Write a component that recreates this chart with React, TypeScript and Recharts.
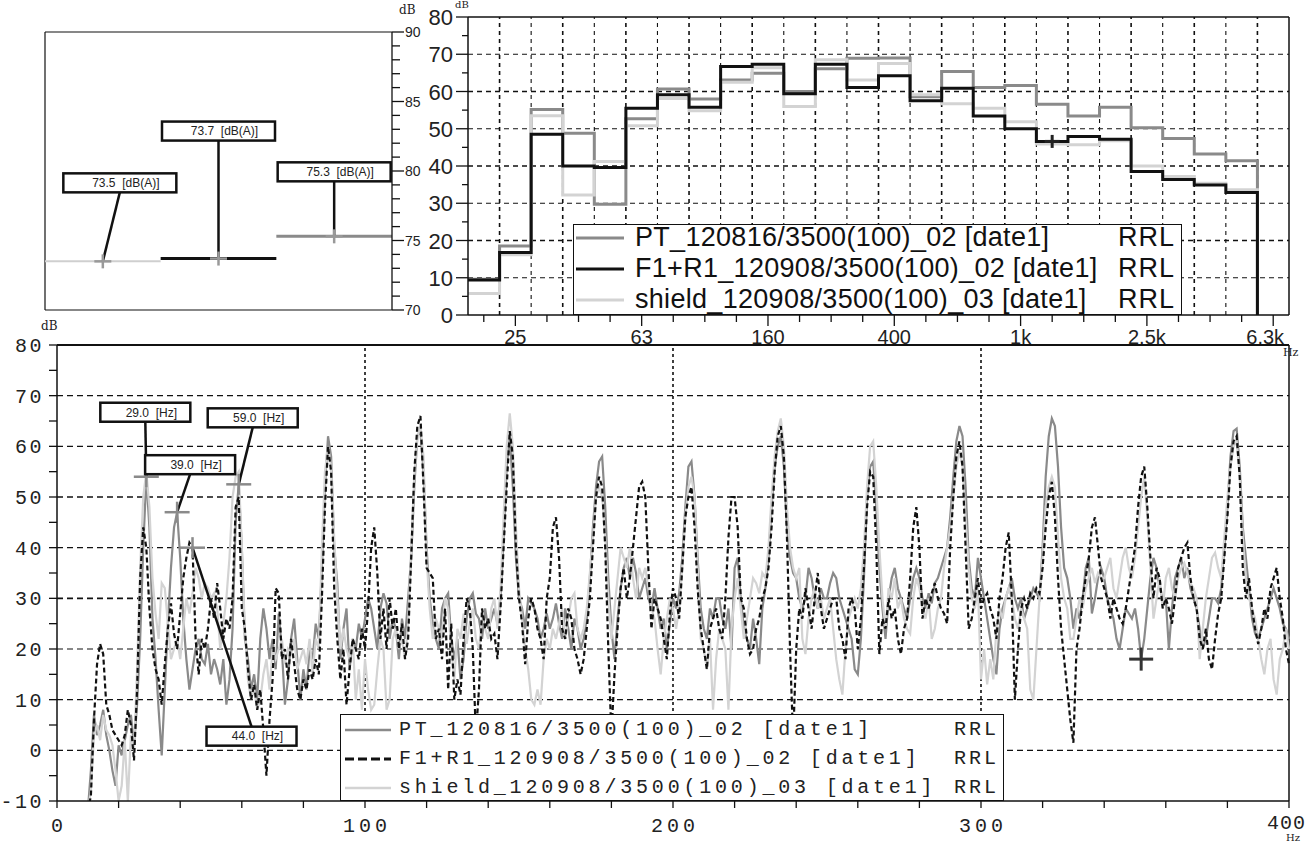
import { LineChart, Line, XAxis, YAxis, ReferenceLine, ReferenceDot, Legend } from 'recharts'

// overall levels, dB(A)
const overallShield = 73.5
const overallF1 = 73.7
const overallPT = 75.3

// 1/3 octave bands
const bandNames = ['20', '25', '31.5', '40', '50', '63', '80', '100', '125', '160', '200', '250', '315', '400', '500', '630', '800', '1k', '1.25k', '1.6k', '2k', '2.5k', '3.15k', '4k', '5k', '6.3k']
const bandLabels = ['25', '63', '160', '400', '1k', '2.5k', '6.3k']
const ptBand = [9.6, 18.5, 55.2, 48.8, 29.7, 52.7, 60.7, 58.0, 63.1, 64.9, 60.0, 66.1, 68.9, 69.0, 58.6, 65.4, 61.1, 61.6, 56.6, 53.4, 55.8, 50.3, 47.4, 43.2, 41.4, 0]
const f1Band = [9.4, 16.8, 48.5, 40.0, 39.6, 55.5, 59.1, 55.8, 66.7, 67.3, 59.4, 67.3, 61.1, 64.2, 57.5, 60.9, 53.4, 50.0, 46.6, 47.9, 47.2, 38.5, 36.4, 34.9, 32.9, 0]
const shBand = [5.8, 16.2, 53.5, 32.2, 41.2, 50.8, 58.1, 54.8, 62.5, 66.4, 56.0, 68.5, 63.1, 67.5, 59.1, 56.7, 55.5, 51.9, 45.9, 45.7, 46.8, 40.0, 37.2, 35.4, 33.6, 0]

// narrow band spectrum, 1 Hz lines from 10 Hz to 400 Hz
const specStartHz = 10
const ptSpec = [
  -12, -4, 7, 3, 5, 8, 3, 0, -4, -7, // 10
  1, -1, 2, 5, 7, 1, 9, 22, 40, 54, // 20
  44, 26, 18, 8, -1, 12, 25, 36, 44, 47, // 30
  38, 26, 18, 12, 16, 20, 22, 18, 17, 21, // 40
  15, 18, 16, 13, 18, 9, 14, 24, 45, 52.5, // 50
  40, 22, 18, 12, 15, 10, 22, 28, 24, 18, // 60
  22, 16, 27, 20, 9, 14, 22, 26, 18, 10, // 70
  16, 12, 20, 18, 25, 22, 36, 52, 62, 58, // 80
  40, 33, 18, 24, 28, 16, 22, 20, 25, 22, // 90
  26, 30, 28, 24, 20, 28, 31, 29, 22, 26, // 100
  24, 18, 26, 22, 30, 38, 52, 62, 63, 55, // 110
  40, 30, 25, 22, 20, 28, 30, 31, 22, 18, // 120
  22, 14, 18, 26, 30, 31, 27, 26, 22, 28, // 130
  24, 26, 28, 25, 30, 42, 56, 62, 52, 38, // 140
  30, 28, 24, 30, 29, 28, 26, 22, 24, 27, // 150
  24, 26, 29, 25, 22, 28, 24, 20, 26, 24, // 160
  20, 22, 26, 34, 44, 52, 57, 58, 48, 34, // 170
  24, 18, 26, 32, 36, 38, 34, 38, 35, 30, // 180
  32, 34, 30, 28, 32, 28, 24, 26, 20, 25, // 190
  30, 28, 31, 38, 48, 56, 57, 50, 38, 28, // 200
  24, 22, 28, 26, 30, 30, 26, 24, 28, 20, // 210
  36, 38, 30, 24, 22, 20, 26, 22, 17, 28, // 220
  32, 38, 48, 56, 60, 62, 56, 44, 38, 35, // 230
  34, 30, 28, 30, 36, 34, 30, 28, 32, 30, // 240
  30, 33, 35, 34, 30, 28, 26, 24, 22, 16, // 250
  15, 22, 34, 50, 56, 57, 48, 36, 28, 22, // 260
  30, 34, 36, 32, 30, 28, 26, 30, 34, 36, // 270
  34, 30, 28, 31, 29, 33, 34, 36, 38, 40, // 280
  46, 54, 61, 64, 62, 52, 38, 32, 30, 38, // 290
  34, 30, 26, 22, 18, 15, 24, 28, 30, 32, // 300
  34, 30, 28, 30, 26, 28, 30, 32, 31, 30, // 310
  40, 54, 62, 65.5, 64, 56, 44, 36, 34, 30, // 320
  24, 28, 26, 30, 36, 38, 27, 30, 34, 36, // 330
  34, 30, 28, 26, 22, 20, 24, 28, 27, 26, // 340
  28, 24, 18, 22, 28, 34, 38, 36, 32, 30, // 350
  30, 20, 28, 34, 36, 38, 34, 36, 32, 30, // 360
  28, 24, 20, 22, 26, 30, 30, 29, 32, 40, // 370
  48, 58, 63, 63.5, 56, 44, 38, 32, 26, 23, // 380
  22, 24, 26, 28, 30, 32, 30, 28, 25, 24, 22, // 390-400
]
const f1Spec = [
  -12, -9, 6, 17, 21, 19, 9, 7, 4, 3, // 10
  2, 1, 3, 8, 5, -2, 12, 34, 44, 40, // 20
  28, 20, 16, 14, 9, 17, 24, 29, 23, 20, // 30
  27, 34, 38, 41, 40, 22, 15, 22, 20, 24, // 40
  30, 26, 33, 28, 22, 26, 24, 30, 48, 50, // 50
  28, 24, 16, 10, 13, 8, 12, 4, -5, 6, // 60
  14, 32, 31, 18, 20, 14, 22, 17, 12, 10, // 70
  14, 12, 16, 14, 18, 15, 30, 48, 60, 55, // 80
  32, 22, 14, 20, 9, 16, 22, 20, 18, 24, // 90
  20, 28, 40, 44, 35, 22, 28, 20, 30, 24, // 100
  28, 20, 25, 18, 22, 38, 55, 64, 66, 52, // 110
  36, 35, 34, 22, 24, 18, 28, 12, 25, 10, // 120
  14, 11, 22, 30, 28, 20, 3, 12, 28, 24, // 130
  26, 22, 23, 18, 28, 40, 52, 63, 58, 40, // 140
  30, 25, 17, 26, 30, 28, 24, 22, 18, 30, // 150
  34, 44, 46, 38, 24, 22, 28, 26, 20, 18, // 160
  15, 18, 24, 30, 40, 50, 54, 52, 40, 20, // 170
  3, 15, 24, 32, 36, 30, 34, 40, 46, 52, // 180
  53, 50, 36, 24, 30, 28, 26, 22, 18, 27, // 190
  32, 30, 26, 36, 46, 50, 52, 44, 32, 24, // 200
  20, 16, 24, 26, 28, 24, 22, 30, 42, 50, // 210
  50, 44, 30, 28, 22, 19, 20, 24, 26, 30, // 220
  32, 36, 44, 55, 62, 64, 58, 42, 20, 2, // 230
  20, 28, 26, 32, 28, 24, 30, 35, 28, 24, // 240
  26, 28, 30, 30, 24, 22, 18, 28, 30, 28, // 250
  20, 26, 36, 48, 55, 54, 40, 19, 26, 24, // 260
  30, 26, 28, 22, 19, 24, 26, 34, 44, 48, // 270
  40, 26, 30, 28, 31, 33, 30, 28, 27, 25, // 280
  40, 50, 58, 61, 56, 40, 24, 26, 30, 34, // 290
  28, 30, 31, 28, 26, 22, 30, 34, 40, 43, // 300
  30, 10, 20, 28, 30, 28, 31, 30, 32, 31, // 310
  36, 44, 50, 53, 46, 34, 24, 18, 12, 6, // 320
  1.5, 20, 24, 30, 34, 38, 44, 46, 40, 34, // 330
  32, 30, 26, 30, 28, 26, 25, 28, 32, 36, // 340
  40, 48, 54, 56, 48, 38, 30, 36, 34, 28, // 350
  30, 28, 25, 30, 36, 38, 40, 41, 34, 30, // 360
  28, 22, 20, 24, 18, 16, 22, 27, 30, 38, // 370
  46, 56, 61, 62, 54, 36, 30, 34, 28, 24, // 380
  21, 24, 28, 26, 32, 34, 36, 30, 26, 20, 17, // 390-400
]
const shSpec = [
  -12, -8, 3, 5, 2, 7, 4, 3, 1, -4, // 10
  -10, -7, 2, -10, 3, 0, 16, 36, 50, 55, // 20
  48, 34, 27, 22, 33, 32, 25, 18, 20, 22, // 30
  18, 24, 30, 27, 31, 36, 34, 30, 33, 32, // 40
  30, 31, 28, 20, 25, 30, 38, 50, 54, 55, // 50
  40, 24, 14, 10, 12, 8, 10, 15, 18, 12, // 60
  20, 18, 20, 22, 17, 20, 19, 22, 16, 18, // 70
  20, 17, 22, 15, 22, 20, 40, 55, 60, 56, // 80
  42, 30, 20, 24, 20, 18, 22, 10, 16, 8, // 90
  18, 12, 8, 9, 16, 22, 20, 8, 10, 22, // 100
  24, 20, 22, 18, 25, 40, 54, 62, 64, 58, // 110
  38, 28, 22, 26, 24, 22, 30, 28, 20, 14, // 120
  24, 22, 27, 21, 25, 28, 22, 20, 26, 24, // 130
  22, 28, 30, 24, 32, 46, 60, 66.5, 60, 44, // 140
  32, 26, 20, 16, 10, 9, 12, 9, 18, 22, // 150
  20, 24, 22, 25, 28, 22, 26, 30, 31, 24, // 160
  22, 24, 28, 35, 42, 50, 52, 50, 42, 30, // 170
  22, 28, 34, 40, 38, 36, 40, 34, 30, 36, // 180
  34, 36, 32, 28, 26, 20, 15, 22, 26, 30, // 190
  28, 24, 28, 36, 46, 52, 54, 50, 36, 22, // 200
  20, 16, 22, 8, 18, 24, 22, 20, 8, 24, // 210
  30, 34, 28, 22, 26, 30, 34, 33, 31, 35, // 220
  34, 40, 50, 58, 63, 65.5, 60, 48, 40, 36, // 230
  34, 36, 22, 19, 26, 30, 32, 28, 30, 26, // 240
  28, 30, 24, 18, 14, 11, 20, 26, 28, 30, // 250
  28, 32, 40, 52, 60, 61, 52, 40, 30, 24, // 260
  32, 30, 34, 28, 30, 26, 24, 23, 30, 34, // 270
  32, 28, 26, 30, 22, 24, 28, 30, 36, 40, // 280
  44, 50, 56, 59, 56, 46, 36, 30, 28, 32, // 290
  14, 20, 13, 18, 14, 24, 28, 26, 30, 32, // 300
  30, 26, 24, 28, 26, 24, 12, 10, 20, 30, // 310
  38, 48, 52, 54, 52, 42, 34, 30, 28, 22, // 320
  22, 26, 30, 28, 32, 34, 36, 33, 35, 34, // 330
  34, 36, 38, 32, 30, 34, 38, 40, 36, 34, // 340
  38, 44, 50, 54, 46, 36, 26, 30, 34, 28, // 350
  34, 36, 32, 30, 34, 36, 37, 35, 33, 32, // 360
  30, 18, 24, 30, 34, 38, 39, 36, 34, 42, // 370
  50, 56, 60, 61, 54, 42, 34, 30, 28, 26, // 380
  22, 18, 15, 20, 22, 14, 11, 18, 20, 24, 20, // 390-400
]

const series = [
  { key: 'pt', name: 'PT_120816/3500(100)_02 [date1]', color: '#8a8a8a', dash: undefined as string | undefined },
  { key: 'f1', name: 'F1+R1_120908/3500(100)_02 [date1]', color: '#111111', dash: '7 4' },
  { key: 'sh', name: 'shield_120908/3500(100)_03 [date1]', color: '#d3d3d3', dash: undefined as string | undefined },
]

const overallRows = [0, 1, 2, 3].map((x) => ({
  x,
  sh: x <= 1 ? overallShield : null,
  f1: x >= 1 && x <= 2 ? overallF1 : null,
  pt: x >= 2 ? overallPT : null,
}))

const bandRows = bandNames.map((name, i) => ({ x: i, name, pt: ptBand[i], f1: f1Band[i], sh: shBand[i] }))
const bandTicks = bandNames.map((_, i) => i + 0.5)

const specRows = ptSpec.map((v, i) => ({ hz: specStartHz + i, pt: v, f1: f1Spec[i], sh: shSpec[i] }))
const specAt = (hz: number, key: 'pt' | 'f1' | 'sh') => specRows[hz - specStartHz][key]

const range = (a: number, b: number, s: number) => {
  const out: number[] = []
  for (let v = a; v <= b + 1e-9; v += s) out.push(v)
  return out
}

const cross = (cx: number, cy: number, w: number, h: number, color: string, sw: number) => (
  <g>
    <line x1={cx - w / 2} x2={cx + w / 2} y1={cy} y2={cy} stroke={color} strokeWidth={sw} />
    <line x1={cx} x2={cx} y1={cy - h / 2} y2={cy + h / 2} stroke={color} strokeWidth={sw} />
  </g>
)

type CalloutOpts = { text: string; dx: number; dy: number; w: number; h: number; below?: boolean; cw: number; ch: number; cc: string; fs: number }

function callout(o: CalloutOpts) {
  return (p: any) => {
    const { cx, cy } = p
    if (cx == null || cy == null) return <g />
    const bx = cx + o.dx
    const by = cy + o.dy
    const top = o.below ? by : by - o.h
    return (
      <g>
        <line x1={cx} y1={cy} x2={bx} y2={by} stroke="#111" strokeWidth={2.5} />
        {cross(cx, cy, o.cw, o.ch, o.cc, 2.5)}
        <rect x={bx - o.w / 2} y={top} width={o.w} height={o.h} fill="#fff" stroke="#111" strokeWidth={2.5} />
        <text x={bx + 6} y={top + o.h / 2 + o.fs * 0.36} textAnchor="middle" fontFamily="Liberation Sans" fontSize={o.fs} fill="#222" xmlSpace="preserve" style={{ whiteSpace: 'pre' }}>
          {o.text}
        </text>
      </g>
    )
  }
}

function plainCross(w: number, h: number, color: string, sw: number) {
  return (p: any) => (p.cx == null ? <g /> : cross(p.cx, p.cy, w, h, color, sw))
}

// ---------- top left: overall levels ----------
const OverallTick = ({ x, y, payload }: any) => {
  const v = payload.value
  const major = v % 5 === 0
  return (
    <g>
      <line x1={x} x2={x + (major ? 12 : 8)} y1={y} y2={y} stroke="#111" strokeWidth={1.3} />
      {major && (
        <text x={x + 13} y={y + 5} fontFamily="Liberation Sans" fontSize={14} fill="#222">
          {v}
        </text>
      )}
    </g>
  )
}

function OverallChart() {
  const callouts = [
    { x: 0.5, y: overallShield, text: `${overallShield.toFixed(1)}  [dB(A)]`, dx: 17, dy: -69 },
    { x: 1.5, y: overallF1, text: `${overallF1.toFixed(1)}  [dB(A)]`, dx: 0, dy: -118 },
    { x: 2.5, y: overallPT, text: `${overallPT.toFixed(1)}  [dB(A)]`, dx: 0, dy: -55 },
  ]
  return (
    <LineChart width={460} height={330} data={overallRows} margin={{ top: 32, right: 28, bottom: 20, left: 45 }}>
      <XAxis type="number" dataKey="x" domain={[0, 3]} hide />
      <YAxis
        orientation="right"
        domain={[70, 90]}
        ticks={range(70, 90, 1)}
        interval={0}
        width={40}
        tickLine={false}
        tickSize={0}
        tickMargin={0}
        tick={<OverallTick />}
        axisLine={{ stroke: '#111', strokeWidth: 1.3 }}
      />
      <ReferenceLine x={0} stroke="#111" strokeWidth={1.2} />
      <ReferenceLine y={90} stroke="#111" strokeWidth={1.2} />
      <ReferenceLine y={70} stroke="#111" strokeWidth={1.2} />
      <Line dataKey="sh" stroke="#cfcfcf" strokeWidth={2} dot={false} isAnimationActive={false} connectNulls={false} />
      <Line dataKey="f1" stroke="#111" strokeWidth={3} dot={false} isAnimationActive={false} connectNulls={false} />
      <Line dataKey="pt" stroke="#8a8a8a" strokeWidth={3} dot={false} isAnimationActive={false} connectNulls={false} />
      {callouts.map((c) => (
        <ReferenceDot
          key={c.text}
          x={c.x}
          y={c.y}
          r={0}
          shape={callout({ text: c.text, dx: c.dx, dy: c.dy, w: 113, h: 19, cw: 17, ch: 14, cc: '#999', fs: 12 })}
        />
      ))}
    </LineChart>
  )
}

// ---------- top right: 1/3 octave bands ----------
const BandTick = ({ x, y, payload }: any) => {
  const i = Math.round(payload.value - 0.5)
  const name = bandNames[i]
  const labeled = bandLabels.includes(name)
  const last = i === bandNames.length - 1
  return (
    <g>
      <line x1={x} x2={x} y1={y} y2={y + (labeled ? 11 : 7)} stroke="#111" strokeWidth={1.3} />
      {labeled && (
        <text x={last ? x - 8 : x} y={y + 29} textAnchor="middle" fontFamily="Liberation Sans" fontSize={20} fill="#222">
          {name}
        </text>
      )}
    </g>
  )
}

const BandYTick = ({ x, y, payload }: any) => {
  const v = payload.value
  const major = v % 10 === 0
  return (
    <g>
      <line x1={x - (major ? 12 : 6)} x2={x} y1={y} y2={y} stroke="#111" strokeWidth={1.3} />
      {major && (
        <text x={x - 15} y={y + 8} textAnchor="end" fontFamily="Liberation Sans" fontSize={22} fill="#222">
          {v}
        </text>
      )}
    </g>
  )
}

const BandLegend = () => (
  <div
    style={{
      position: 'relative',
      width: 609,
      height: 91,
      boxSizing: 'border-box',
      border: '1.5px solid #111',
      background: '#fff',
      fontFamily: 'Liberation Sans',
      fontSize: 27,
      lineHeight: '31px',
      color: '#111',
    }}
  >
    {series.map((s, i) => (
      <div key={s.key} style={{ position: 'absolute', left: 0, right: 0, top: i * 31 - 3, height: 31, display: 'flex', alignItems: 'center', whiteSpace: 'pre' }}>
        <svg width={52} height={8} style={{ flex: 'none' }}>
          <line x1={2} x2={50} y1={4} y2={4} stroke={s.color} strokeWidth={3} />
        </svg>
        <span style={{ marginLeft: 9, letterSpacing: 0.3 }}>{s.name}</span>
        <span style={{ position: 'absolute', right: 6, letterSpacing: 1 }}>RRL</span>
      </div>
    ))}
  </div>
)

function BandChart() {
  return (
    <LineChart width={906} height={350} data={bandRows} margin={{ top: 17, right: 17, bottom: 5, left: 8 }}>
      <XAxis
        type="number"
        dataKey="x"
        domain={[0, 26]}
        ticks={bandTicks}
        interval={0}
        height={30}
        tickLine={false}
        tickSize={0}
        tickMargin={0}
        tick={<BandTick />}
        axisLine={{ stroke: '#111', strokeWidth: 1.5 }}
      />
      <YAxis
        domain={[0, 80]}
        ticks={range(0, 80, 5)}
        interval={0}
        width={60}
        tickLine={false}
        tickSize={0}
        tickMargin={0}
        tick={<BandYTick />}
        axisLine={{ stroke: '#111', strokeWidth: 1.5 }}
      />
      {range(10, 70, 10).map((v) => (
        <ReferenceLine key={`h${v}`} y={v} stroke="#111" strokeWidth={v % 20 === 0 ? 1.6 : 1} strokeDasharray="5 4" />
      ))}
      {range(1, 25, 1).map((v) => (
        <ReferenceLine key={`v${v}`} x={v} stroke="#111" strokeWidth={v % 2 === 0 ? 1.1 : 1.6} strokeDasharray="4 4" />
      ))}
      <ReferenceLine y={80} stroke="#111" strokeWidth={1.5} />
      <ReferenceLine x={26} stroke="#111" strokeWidth={1.5} />
      <Line type="stepAfter" dataKey="pt" stroke="#8a8a8a" strokeWidth={3} dot={false} isAnimationActive={false} />
      <Line type="stepAfter" dataKey="sh" stroke="#d3d3d3" strokeWidth={3} dot={false} isAnimationActive={false} />
      <Line type="stepAfter" dataKey="f1" stroke="#111" strokeWidth={3} dot={false} isAnimationActive={false} />
      <ReferenceDot x={18.5} y={f1Band[18]} r={0} shape={plainCross(15, 13, '#222', 3)} />
      <Legend
        layout="vertical"
        align="center"
        verticalAlign="middle"
        content={() => <BandLegend />}
        wrapperStyle={{ left: 173, top: 224, width: 609, height: 91 }}
      />
    </LineChart>
  )
}

// ---------- bottom: narrow band spectrum ----------
const monoFont = 'Liberation Mono'

const SpecYTick = ({ x, y, payload }: any) => {
  const v = payload.value
  const major = v % 10 === 0
  return (
    <g>
      <line x1={x - 8} x2={x} y1={y} y2={y} stroke="#111" strokeWidth={1.3} />
      {major && (
        <text x={x - 13} y={y + 7} textAnchor="end" fontFamily={monoFont} fontSize={20} letterSpacing={2.5} fill="#222">
          {v}
        </text>
      )}
    </g>
  )
}

const SpecXTick = ({ x, y, payload }: any) => {
  const v = payload.value
  const major = v % 100 === 0
  const last = v === 400
  return (
    <g>
      <line x1={x} x2={x} y1={y} y2={y + 7} stroke="#111" strokeWidth={1.3} />
      {major && (
        <text x={last ? x + 17 : x + 2} y={y + (last ? 28 : 31)} textAnchor={last ? 'end' : 'middle'} fontFamily={monoFont} fontSize={20} letterSpacing={last ? 1 : 4} fill="#222">
          {v}
        </text>
      )}
    </g>
  )
}

const SpecLegend = () => (
  <div
    style={{
      position: 'relative',
      width: 664,
      height: 87,
      boxSizing: 'border-box',
      border: '1.5px solid #111',
      background: '#fff',
      fontFamily: monoFont,
      fontSize: 20,
      lineHeight: '29px',
      color: '#222',
    }}
  >
    {series.map((s, i) => (
      <div key={s.key} style={{ position: 'absolute', left: 0, right: 0, top: i * 29, height: 29, display: 'flex', alignItems: 'center', whiteSpace: 'pre' }}>
        <svg width={52} height={8} style={{ flex: 'none' }}>
          <line x1={4} x2={50} y1={4} y2={4} stroke={s.color} strokeWidth={s.dash ? 3 : 2.5} strokeDasharray={s.dash ? '9 4' : undefined} />
        </svg>
        <span style={{ marginLeft: 6, letterSpacing: 3.8 }}>{s.name}</span>
        <span style={{ position: 'absolute', right: 4, letterSpacing: 3 }}>RRL</span>
      </div>
    ))}
  </div>
)

function SpectrumChart() {
  const markers = [
    { hz: 29, key: 'pt' as const, dx: -1, dy: -55, below: false },
    { hz: 39, key: 'pt' as const, dx: 13, dy: -38, below: false },
    { hz: 44, key: 'f1' as const, dx: 59, dy: 179, below: true },
    { hz: 59, key: 'pt' as const, dx: 14, dy: -57, below: false },
  ]
  return (
    <LineChart width={1306} height={523} data={specRows} margin={{ top: 25, right: 17, bottom: 12, left: 7 }}>
      <XAxis
        type="number"
        dataKey="hz"
        domain={[0, 400]}
        ticks={range(0, 400, 20)}
        interval={0}
        height={30}
        tickLine={false}
        tickSize={0}
        tickMargin={0}
        tick={<SpecXTick />}
        axisLine={{ stroke: '#111', strokeWidth: 1.5 }}
      />
      <YAxis
        domain={[-10, 80]}
        allowDataOverflow
        ticks={range(-10, 80, 5)}
        interval={0}
        width={50}
        tickLine={false}
        tickSize={0}
        tickMargin={0}
        tick={<SpecYTick />}
        axisLine={{ stroke: '#111', strokeWidth: 1.5 }}
      />
      {range(0, 70, 10).map((v) => (
        <ReferenceLine key={`h${v}`} y={v} stroke="#111" strokeWidth={v === 50 || v === 30 ? 1.7 : 1.1} strokeDasharray="6 4" />
      ))}
      {[100, 200, 300].map((v) => (
        <ReferenceLine key={`v${v}`} x={v} stroke="#111" strokeWidth={1.6} strokeDasharray="3 3" />
      ))}
      <ReferenceLine y={80} stroke="#111" strokeWidth={2} />
      <ReferenceLine x={400} stroke="#111" strokeWidth={1.5} />
      <Line type="linear" dataKey="pt" stroke="#8a8a8a" strokeWidth={2.2} dot={false} isAnimationActive={false} />
      <Line type="linear" dataKey="sh" stroke="#d3d3d3" strokeWidth={2.2} dot={false} isAnimationActive={false} />
      <Line type="linear" dataKey="f1" stroke="#111" strokeWidth={2.2} strokeDasharray="5 3" dot={false} isAnimationActive={false} />
      {markers.map((m) => (
        <ReferenceDot
          key={m.hz}
          x={m.hz}
          y={specAt(m.hz, m.key)}
          r={0}
          shape={callout({ text: `${m.hz.toFixed(1)}  [Hz]`, dx: m.dx, dy: m.dy, w: 90, h: 19, below: m.below, cw: 25, ch: 21, cc: '#8a8a8a', fs: 12 })}
        />
      ))}
      <ReferenceDot x={352} y={specAt(352, 'pt')} r={0} shape={plainCross(24, 23, '#333', 3)} />
      <Legend
        layout="vertical"
        align="center"
        verticalAlign="middle"
        content={() => <SpecLegend />}
        wrapperStyle={{ left: 340, top: 394, width: 664, height: 87 }}
      />
    </LineChart>
  )
}

const smallLabel = { position: 'absolute' as const, fontFamily: 'DejaVu Serif', fontSize: 12, color: '#222', lineHeight: '12px' }

export default function App() {
  return (
    <div style={{ position: 'absolute', left: 0, top: 0, width: 1306, height: 843, background: '#fff', overflow: 'hidden' }}>
      <div style={{ position: 'absolute', left: 0, top: 320 }}>
        <SpectrumChart />
      </div>
      <div style={{ position: 'absolute', left: 400, top: 0 }}>
        <BandChart />
      </div>
      <div style={{ position: 'absolute', left: 0, top: 0 }}>
        <OverallChart />
      </div>
      <div style={{ ...smallLabel, left: 399, top: 4 }}>dB</div>
      <div style={{ ...smallLabel, left: 455, top: 0, fontSize: 10, lineHeight: '10px' }}>dB</div>
      <div style={{ ...smallLabel, left: 41, top: 320 }}>dB</div>
      <div style={{ ...smallLabel, left: 1283, top: 347, fontSize: 11 }}>Hz</div>
      <div style={{ ...smallLabel, left: 1286, top: 833, fontSize: 10, lineHeight: '10px' }}>Hz</div>
    </div>
  )
}
